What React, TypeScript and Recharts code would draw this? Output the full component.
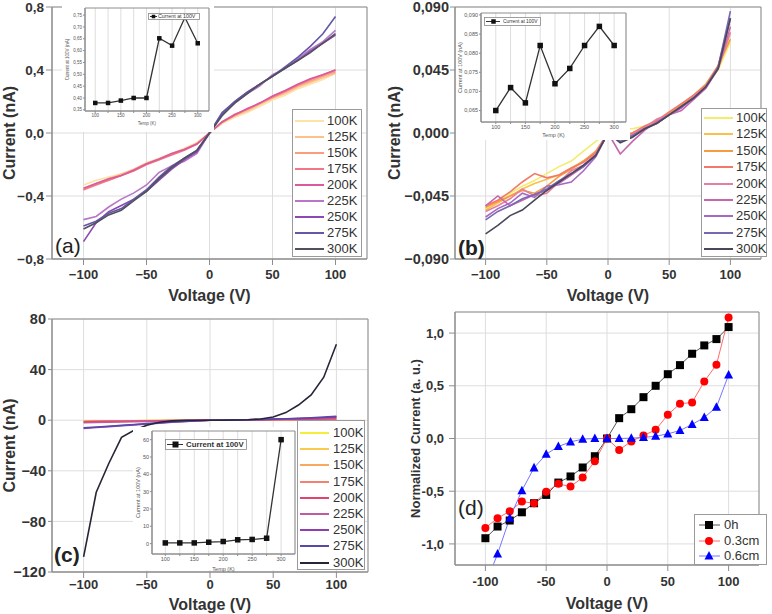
import React from 'react';
import { LineChart, Line, XAxis, YAxis, CartesianGrid, ReferenceArea } from 'recharts';

const FONT = '"Liberation Sans", Arial, Helvetica, sans-serif';
const FRAME = '#8e8e8e';
const GRID = '#dddddd';
const INK = '#333333';

const voltages = [-100, -90, -80, -70, -60, -50, -40, -30, -20, -10, 0, 10, 20, 30, 40, 50, 60, 70, 80, 90, 100];
const voltTicks = [-100, -50, 0, 50, 100];
const temps = ['100K', '125K', '150K', '175K', '200K', '225K', '250K', '275K', '300K'];
const tempAxis = [100, 125, 150, 175, 200, 225, 250, 275, 300];

// (a) I-V sweeps, nA
const colorsA = ['#fde3a7', '#fcc28c', '#f99e7c', '#f27686', '#d95a9e', '#b877c6', '#8a4ab2', '#6457a6', '#50505e'];
const currentA = [
  [-0.33, -0.30, -0.28, -0.26, -0.23, -0.19, -0.16, -0.13, -0.10, -0.06, 0, 0.06, 0.10, 0.13, 0.17, 0.21, 0.24, 0.28, 0.31, 0.34, 0.379],
  [-0.35, -0.32, -0.29, -0.26, -0.23, -0.19, -0.165, -0.13, -0.10, -0.065, 0, 0.065, 0.11, 0.14, 0.18, 0.22, 0.25, 0.29, 0.32, 0.35, 0.379],
  [-0.36, -0.32, -0.30, -0.27, -0.24, -0.20, -0.17, -0.135, -0.105, -0.07, 0, 0.07, 0.11, 0.15, 0.19, 0.225, 0.26, 0.30, 0.33, 0.36, 0.389],
  [-0.36, -0.33, -0.30, -0.27, -0.24, -0.20, -0.17, -0.14, -0.11, -0.07, 0, 0.07, 0.12, 0.15, 0.19, 0.23, 0.265, 0.305, 0.34, 0.37, 0.40],
  [-0.35, -0.32, -0.29, -0.27, -0.235, -0.195, -0.165, -0.13, -0.105, -0.07, 0, 0.07, 0.115, 0.155, 0.19, 0.235, 0.27, 0.31, 0.345, 0.37, 0.40],
  [-0.55, -0.53, -0.47, -0.42, -0.38, -0.33, -0.25, -0.21, -0.18, -0.13, 0, 0.12, 0.19, 0.25, 0.30, 0.37, 0.41, 0.47, 0.53, 0.58, 0.652],
  [-0.69, -0.57, -0.50, -0.46, -0.42, -0.37, -0.30, -0.23, -0.17, -0.12, 0, 0.12, 0.20, 0.26, 0.31, 0.36, 0.41, 0.46, 0.52, 0.57, 0.621],
  [-0.59, -0.56, -0.51, -0.48, -0.42, -0.36, -0.28, -0.21, -0.16, -0.11, 0, 0.13, 0.20, 0.26, 0.31, 0.36, 0.42, 0.48, 0.55, 0.63, 0.74],
  [-0.61, -0.57, -0.52, -0.49, -0.43, -0.37, -0.29, -0.22, -0.16, -0.11, 0, 0.11, 0.19, 0.25, 0.31, 0.36, 0.41, 0.46, 0.51, 0.57, 0.631],
];

// (b)
const colorsB = ['#f4ec6c', '#fbc04c', '#f89a40', '#f2786a', '#e3809f', '#c666ae', '#a668c0', '#7868b0', '#48485a'];
const currentB = [
  [-0.054, -0.048, -0.043, -0.038, -0.034, -0.029, -0.024, -0.020, -0.013, -0.006, 0, 0.003, 0.003, 0.005, 0.008, 0.014, 0.020, 0.026, 0.034, 0.045, 0.065],
  [-0.055, -0.050, -0.045, -0.040, -0.036, -0.033, -0.030, -0.025, -0.020, -0.014, 0, -0.003, -0.002, 0.003, 0.007, 0.013, 0.019, 0.025, 0.034, 0.047, 0.071],
  [-0.053, -0.049, -0.045, -0.041, -0.043, -0.038, -0.031, -0.026, -0.020, -0.013, 0, -0.002, 0.000, 0.004, 0.008, 0.014, 0.020, 0.027, 0.035, 0.048, 0.067],
  [-0.052, -0.048, -0.042, -0.035, -0.029, -0.032, -0.030, -0.025, -0.021, -0.014, 0, -0.003, 0.000, 0.005, 0.009, 0.015, 0.021, 0.027, 0.034, 0.048, 0.082],
  [-0.056, -0.052, -0.047, -0.040, -0.045, -0.043, -0.035, -0.027, -0.023, -0.015, 0, -0.004, -0.001, 0.004, 0.010, 0.013, 0.018, 0.026, 0.033, 0.046, 0.072],
  [-0.052, -0.045, -0.052, -0.048, -0.044, -0.041, -0.036, -0.030, -0.024, -0.016, 0, -0.015, -0.006, 0.002, 0.008, 0.013, 0.016, 0.024, 0.032, 0.046, 0.076],
  [-0.060, -0.054, -0.050, -0.043, -0.046, -0.038, -0.037, -0.035, -0.027, -0.017, 0, -0.005, -0.002, 0.003, 0.007, 0.013, 0.018, 0.025, 0.033, 0.047, 0.082],
  [-0.062, -0.056, -0.052, -0.047, -0.044, -0.040, -0.034, -0.029, -0.024, -0.016, 0, -0.006, -0.002, 0.003, 0.007, 0.013, 0.019, 0.025, 0.033, 0.047, 0.087],
  [-0.072, -0.066, -0.059, -0.055, -0.048, -0.041, -0.035, -0.029, -0.023, -0.016, 0, -0.007, -0.003, 0.003, 0.007, 0.013, 0.019, 0.025, 0.033, 0.046, 0.082],
];

// (c)
const colorsC = ['#f6ec3c', '#fbc94e', '#f9a860', '#f58270', '#e0446e', '#c05aa2', '#8e3eb0', '#5a48a8', '#262638'];
const currentC = [
  [-0.6, -0.55, -0.5, -0.45, -0.4, -0.35, -0.3, -0.25, -0.2, -0.1, 0, 0.05, 0.08, 0.1, 0.14, 0.18, 0.22, 0.26, 0.3, 0.35, 0.4],
  [-0.7, -0.63, -0.56, -0.49, -0.42, -0.35, -0.3, -0.24, -0.18, -0.1, 0, 0.05, 0.08, 0.11, 0.14, 0.18, 0.22, 0.26, 0.3, 0.35, 0.4],
  [-0.8, -0.72, -0.64, -0.56, -0.48, -0.4, -0.32, -0.25, -0.18, -0.1, 0, 0.05, 0.09, 0.12, 0.15, 0.19, 0.23, 0.27, 0.31, 0.36, 0.4],
  [-1.0, -0.9, -0.8, -0.7, -0.6, -0.5, -0.4, -0.3, -0.2, -0.1, 0, 0.06, 0.12, 0.18, 0.25, 0.32, 0.4, 0.48, 0.57, 0.68, 0.8],
  [-1.2, -1.08, -0.96, -0.84, -0.72, -0.6, -0.48, -0.36, -0.24, -0.12, 0, 0.08, 0.16, 0.25, 0.35, 0.45, 0.56, 0.68, 0.82, 1.0, 1.2],
  [-2.0, -1.8, -1.6, -1.4, -1.2, -1.0, -0.8, -0.6, -0.4, -0.2, 0, 0.1, 0.25, 0.4, 0.6, 0.8, 1.0, 1.3, 1.6, 1.9, 2.2],
  [-6.5, -5.8, -5.1, -4.4, -3.7, -3.0, -2.3, -1.6, -1.0, -0.5, 0, 0.1, 0.2, 0.35, 0.5, 0.7, 0.9, 1.2, 1.5, 1.9, 2.4],
  [-6.0, -5.4, -4.8, -4.1, -3.4, -2.7, -2.0, -1.4, -0.9, -0.4, 0, 0.1, 0.25, 0.4, 0.6, 0.85, 1.1, 1.5, 1.9, 2.4, 3.1],
  [-108, -57, -34, -13.5, -8, -4, -1.6, -0.5, -0.1, 0, 0, 0, 0.1, 0.4, 1.0, 2.5, 6, 12, 20, 34, 60],
];

// (d) normalized curves
const seriesD = ['0h', '0.3cm', '0.6cm'];
const normal0h = [-0.946, -0.835, -0.778, -0.70, -0.614, -0.535, -0.418, -0.36, -0.275, -0.168, 0, 0.193, 0.278, 0.392, 0.5, 0.61, 0.696, 0.804, 0.883, 0.943, 1.057];
const normal03 = [-0.848, -0.756, -0.69, -0.598, -0.614, -0.506, -0.43, -0.456, -0.37, -0.215, 0, -0.108, -0.028, 0.028, 0.082, 0.225, 0.329, 0.342, 0.541, 0.70, 1.149];
const normal06 = [-1.39, -1.095, -0.756, -0.494, -0.278, -0.149, -0.076, -0.032, -0.006, 0, 0, 0, 0.003, 0.01, 0.022, 0.044, 0.076, 0.133, 0.2, 0.297, 0.604];

// current at +100 V for each temperature, taken from the sweeps
const lastPoint = (series: number[][]) => series.map((s) => s[s.length - 1]);
const peakA = lastPoint(currentA);
const peakB = lastPoint(currentB);
const peakC = lastPoint(currentC);

const toRows = (series: number[][], names: string[]) =>
  voltages.map((v, i) => {
    const row: Record<string, number> = { v };
    names.forEach((n, k) => { row[n] = series[k][i]; });
    return row;
  });

const rowsA = toRows(currentA, temps);
const rowsB = toRows(currentB, temps);
const rowsC = toRows(currentC, temps);
const rowsD = toRows([normal0h, normal03, normal06], seriesD);

const comma = (digits: number, minus = '\u2212') => (v: number) =>
  v.toFixed(digits).replace('.', ',').replace('-', minus);
const voltFmt = (v: number) => String(v).replace('-', '\u2212');

type FrameProps = {
  rows: Record<string, number>[];
  top: number;
  right: number;
  yWidth: number;
  xHeight: number;
  yDomain: [number, number];
  yTicks: number[];
  yFmt: (v: number) => string;
  xFmt: (v: number) => string;
  yTick: [number, number];
  xTick: [number, number];
  yFont: number;
  xFont: number;
  yLabel: string;
  yLabelFont: number;
  yLabelOffset: number;
  xLabelOffset: number;
  overflow?: boolean;
  children: React.ReactNode;
};

function IvFrame(p: FrameProps) {
  return (
    <LineChart width={386} height={307} data={p.rows} margin={{ top: p.top, right: p.right, bottom: 0, left: 0 }}>
      <CartesianGrid stroke={GRID} />
      <XAxis
        dataKey="v" type="number" domain={[-125, 125]} ticks={voltTicks} interval={0}
        tickFormatter={p.xFmt} height={p.xHeight} stroke={FRAME}
        tickSize={p.xTick[0]} tickMargin={p.xTick[1]}
        tick={{ fontSize: p.xFont, fontWeight: 700, fill: INK }}
        label={{ value: 'Voltage (V)', position: 'insideBottom', offset: p.xLabelOffset, fontSize: 16, fontWeight: 700, fill: INK }}
      />
      <YAxis
        type="number" domain={p.yDomain} ticks={p.yTicks} interval={0} allowDataOverflow={!!p.overflow}
        tickFormatter={p.yFmt} width={p.yWidth} stroke={FRAME}
        tickSize={p.yTick[0]} tickMargin={p.yTick[1]}
        tick={{ fontSize: p.yFont, fontWeight: 700, fill: INK }}
        label={{
          value: p.yLabel, angle: -90, position: 'insideLeft', offset: p.yLabelOffset,
          fontSize: p.yLabelFont, fontWeight: 700, fill: INK, style: { textAnchor: 'middle' },
        }}
      />
      <ReferenceArea x1={-125} x2={125} y1={p.yDomain[0]} y2={p.yDomain[1]} fill="none" stroke={FRAME} />
      {p.children}
    </LineChart>
  );
}

const tempLines = (colors: string[]) =>
  temps.map((t, i) => (
    <Line key={t} type="linear" dataKey={t} stroke={colors[i]} strokeWidth={1.6} dot={false} isAnimationActive={false} />
  ));

type LegendProps = {
  left: number; top: number; width: number; height: number;
  colors: string[]; first: number; gap: number; lineX: number; lineW: number; textX: number;
};

function TempLegend(p: LegendProps) {
  return (
    <div style={{ position: 'absolute', left: p.left, top: p.top, width: p.width, height: p.height, boxSizing: 'border-box', border: '1px solid #9a9a9a', background: '#fff' }}>
      {temps.map((t, i) => (
        <div key={t} style={{ position: 'absolute', left: 0, top: p.first + i * p.gap - 8, width: '100%', height: 16 }}>
          <div style={{ position: 'absolute', left: p.lineX, top: 7, width: p.lineW, height: 2, background: p.colors[i] }} />
          <span style={{ position: 'absolute', left: p.textX, top: 0, lineHeight: '16px', fontSize: 13, color: INK }}>{t}</span>
        </div>
      ))}
    </div>
  );
}

type InsetLegend = {
  x: number; y: number; w: number; h: number;
  lineEnd: number; markX: number; mark: number; textX: number; font: number; bold?: boolean;
};

type InsetProps = {
  left: number; top: number; width: number; height: number; bgHeight: number;
  values: number[];
  xDomain: [number, number];
  yDomain: [number, number]; yTicks: number[]; yFmt: (v: number) => string;
  yWidth: number; xHeight: number; marginTop: number; marginRight: number;
  font: number; yLabelOffset: number; xLabelOffset: number; marker: number;
  legend: InsetLegend;
};

function Inset(p: InsetProps) {
  const rows = tempAxis.map((t, i) => ({ t, amp: p.values[i] }));
  const m = p.marker;
  const lg = p.legend;
  return (
    <div style={{ position: 'absolute', left: p.left, top: p.top, width: p.width, height: p.height }}>
      <div style={{ position: 'absolute', left: 0, top: 0, width: p.width, height: p.bgHeight, background: '#fff' }} />
      <LineChart width={p.width} height={p.height} data={rows} margin={{ top: p.marginTop, right: p.marginRight, bottom: 0, left: 0 }}>
        <CartesianGrid stroke={GRID} horizontal={false} />
        <XAxis
          dataKey="t" type="number" domain={p.xDomain} ticks={tempAxis} interval={0} height={p.xHeight}
          tickFormatter={(v: number) => (v % 50 === 0 ? String(v) : '')}
          stroke={FRAME} tickSize={2} tickMargin={1} tick={{ fontSize: p.font, fill: '#555' }}
          label={{ value: 'Temp (K)', position: 'insideBottom', offset: p.xLabelOffset, fontSize: p.font, fill: '#555' }}
        />
        <YAxis
          type="number" domain={p.yDomain} ticks={p.yTicks} interval={0} width={p.yWidth}
          tickFormatter={p.yFmt} stroke={FRAME} tickSize={2} tickMargin={1} tick={{ fontSize: p.font, fill: '#555' }}
          label={{
            value: 'Current at 100V (nA)', angle: -90, position: 'insideLeft', offset: p.yLabelOffset,
            fontSize: p.font, fill: '#555', style: { textAnchor: 'middle' },
          }}
        />
        <ReferenceArea x1={p.xDomain[0]} x2={p.xDomain[1]} y1={p.yDomain[0]} y2={p.yDomain[1]} fill="none" stroke={FRAME} />
        <Line
          type="linear" dataKey="amp" stroke="#333" strokeWidth={1.3} isAnimationActive={false}
          dot={(d: any) => <rect key={`m${d.index}`} x={d.cx - m / 2} y={d.cy - m / 2} width={m} height={m} fill="#111" />}
        />
      </LineChart>
      <svg style={{ position: 'absolute', left: lg.x, top: lg.y }} width={lg.w} height={lg.h}>
        <rect x={0.5} y={0.5} width={lg.w - 1} height={lg.h - 1} fill="#fff" stroke="#888" strokeWidth={0.8} />
        <line x1={2} x2={lg.lineEnd} y1={lg.h / 2} y2={lg.h / 2} stroke="#333" strokeWidth={1} />
        <rect x={lg.markX - lg.mark / 2} y={lg.h / 2 - lg.mark / 2} width={lg.mark} height={lg.mark} fill="#111" />
        <text x={lg.textX} y={lg.h / 2} dy="0.35em" fontSize={lg.font} fontWeight={lg.bold ? 700 : 400} fill={INK}>
          Current at 100V
        </text>
      </svg>
    </div>
  );
}

const square = (s: number, fill: string) => (d: any) =>
  <rect key={`q${d.index}`} x={d.cx - s / 2} y={d.cy - s / 2} width={s} height={s} fill={fill} />;
const dotCircle = (r: number, fill: string) => (d: any) =>
  <circle key={`c${d.index}`} cx={d.cx} cy={d.cy} r={r} fill={fill} />;
const triangle = (s: number, fill: string) => (d: any) =>
  <polygon key={`t${d.index}`} points={`${d.cx},${d.cy - s * 0.55} ${d.cx - s / 2},${d.cy + s * 0.4} ${d.cx + s / 2},${d.cy + s * 0.4}`} fill={fill} />;

const markD = [
  { line: '#555555', color: '#000000', shape: 'square' },
  { line: '#ff6a6a', color: '#ff0000', shape: 'circle' },
  { line: '#7676ff', color: '#0000ff', shape: 'triangle' },
];

const markerSvg = (shape: string, color: string, cx: number, cy: number) => {
  if (shape === 'square') return <rect x={cx - 4} y={cy - 4} width={8} height={8} fill={color} />;
  if (shape === 'circle') return <circle cx={cx} cy={cy} r={4} fill={color} />;
  return <polygon points={`${cx},${cy - 5} ${cx - 4.5},${cy + 3.6} ${cx + 4.5},${cy + 3.6}`} fill={color} />;
};

const panelLabel = (text: string, left: number, top: number, bold: boolean) => (
  <span style={{ position: 'absolute', left, top, fontSize: 21, lineHeight: '21px', fontWeight: bold ? 700 : 400, color: '#222' }}>{text}</span>
);

export default function App() {
  return (
    <div style={{ position: 'absolute', left: 0, top: 0, width: 772, height: 614, background: '#fff', fontFamily: FONT, overflow: 'hidden' }}>
      {/* (a) */}
      <div style={{ position: 'absolute', left: 0, top: 0 }}>
        <IvFrame
          rows={rowsA} top={7} right={19} yWidth={52} xHeight={48}
          yDomain={[-0.8, 0.8]} yTicks={[-0.8, -0.4, 0, 0.4, 0.8]} yFmt={comma(1)} xFmt={voltFmt}
          yTick={[6, 2]} xTick={[6, 5]} yFont={13.5} xFont={13}
          yLabel="Current (nA)" yLabelFont={16} yLabelOffset={9} xLabelOffset={6}
        >
          {tempLines(colorsA)}
        </IvFrame>
      </div>
      <Inset
        left={62} top={4} width={152} height={128} bgHeight={128} values={peakA}
        xDomain={[80, 322]} yDomain={[0.345, 0.78]}
        yTicks={[0.35, 0.4, 0.45, 0.5, 0.55, 0.6, 0.65, 0.7, 0.75]} yFmt={comma(2, '-')}
        yWidth={23} xHeight={21} marginTop={4} marginRight={5}
        font={4.5} yLabelOffset={5} xLabelOffset={7} marker={4.5}
        legend={{ x: 86, y: 9, w: 52, h: 7, lineEnd: 9, markX: 5.5, mark: 3.5, textX: 10, font: 5.3 }}
      />
      <TempLegend left={292} top={109} width={70} height={148} colors={colorsA} first={11} gap={16} lineX={2} lineW={29} textX={34} />
      {panelLabel('(a)', 55, 235, false)}

      {/* (b) */}
      <div style={{ position: 'absolute', left: 386, top: 0 }}>
        <IvFrame
          rows={rowsB} top={7} right={11} yWidth={69} xHeight={48}
          yDomain={[-0.09, 0.09]} yTicks={[-0.09, -0.045, 0, 0.045, 0.09]} yFmt={comma(3)} xFmt={voltFmt}
          yTick={[5, 1]} xTick={[6, 5]} yFont={14.5} xFont={13}
          yLabel="Current (nA)" yLabelFont={16} yLabelOffset={8} xLabelOffset={6}
        >
          {tempLines(colorsB)}
        </IvFrame>
      </div>
      <Inset
        left={456} top={8} width={174} height={132} bgHeight={132} values={peakB}
        xDomain={[75, 320]} yDomain={[0.062, 0.0905]}
        yTicks={[0.065, 0.07, 0.075, 0.08, 0.085, 0.09]} yFmt={comma(3, '-')}
        yWidth={25} xHeight={18} marginTop={5} marginRight={4}
        font={5.5} yLabelOffset={4} xLabelOffset={3} marker={5.5}
        legend={{ x: 28, y: 9, w: 57, h: 9, lineEnd: 16, markX: 9.5, mark: 4.5, textX: 19, font: 4.9 }}
      />
      <TempLegend left={701} top={108} width={66} height={149} colors={colorsB} first={9} gap={16.4} lineX={2} lineW={29} textX={34} />
      {panelLabel('(b)', 458, 237, true)}

      {/* (c) */}
      <div style={{ position: 'absolute', left: 0, top: 307 }}>
        <IvFrame
          rows={rowsC} top={12} right={18} yWidth={52} xHeight={42}
          yDomain={[-120, 80]} yTicks={[-120, -80, -40, 0, 40, 80]} yFmt={voltFmt} xFmt={voltFmt}
          yTick={[4, 2]} xTick={[6, 2]} yFont={14.5} xFont={13}
          yLabel="Current (nA)" yLabelFont={16} yLabelOffset={9} xLabelOffset={4}
        >
          {tempLines(colorsC)}
        </IvFrame>
      </div>
      <Inset
        left={133} top={427} width={166} height={147} bgHeight={143} values={peakC}
        xDomain={[77, 324]} yDomain={[-6, 65]}
        yTicks={[0, 10, 20, 30, 40, 50, 60]} yFmt={(v: number) => String(v)}
        yWidth={19} xHeight={20} marginTop={4} marginRight={4}
        font={5.5} yLabelOffset={5} xLabelOffset={3} marker={5.5}
        legend={{ x: 32, y: 12, w: 82, h: 11, lineEnd: 18, markX: 10.5, mark: 6, textX: 21, font: 7.8, bold: true }}
      />
      <TempLegend left={297} top={420} width={68} height={150} colors={colorsC} first={12} gap={16.2} lineX={2} lineW={29} textX={35} />
      {panelLabel('(c)', 54, 544, true)}

      {/* (d) */}
      <div style={{ position: 'absolute', left: 386, top: 307 }}>
        <IvFrame
          rows={rowsD} top={5} right={13} yWidth={69} xHeight={49}
          yDomain={[-1.2, 1.2]} yTicks={[-1, -0.5, 0, 0.5, 1]} yFmt={comma(1, '-')} xFmt={(v: number) => String(v)}
          yTick={[6, 5]} xTick={[6, 6]} yFont={13} xFont={13}
          yLabel="Normalized Current (a. u.)" yLabelFont={13} yLabelOffset={29} xLabelOffset={5} overflow
        >
          <Line type="linear" dataKey="0h" stroke={markD[0].line} strokeWidth={1} isAnimationActive={false} dot={square(8, markD[0].color)} />
          <Line type="linear" dataKey="0.3cm" stroke={markD[1].line} strokeWidth={1} isAnimationActive={false} dot={dotCircle(4, markD[1].color)} />
          <Line type="linear" dataKey="0.6cm" stroke={markD[2].line} strokeWidth={1} isAnimationActive={false} dot={triangle(9, markD[2].color)} />
        </IvFrame>
      </div>
      <div style={{ position: 'absolute', left: 694, top: 514, width: 73, height: 51, boxSizing: 'border-box', border: '1px solid #9a9a9a', background: '#fff' }}>
        {seriesD.map((s, i) => (
          <div key={s} style={{ position: 'absolute', left: 0, top: 10 + i * 15.5 - 8, width: '100%', height: 16 }}>
            <svg style={{ position: 'absolute', left: 0, top: 0 }} width={28} height={16}>
              <line x1={4} x2={25} y1={8} y2={8} stroke={markD[i].line} strokeWidth={1} />
              {markerSvg(markD[i].shape, markD[i].color, 14, 8)}
            </svg>
            <span style={{ position: 'absolute', left: 29, top: 0, lineHeight: '16px', fontSize: 13, color: INK }}>{s}</span>
          </div>
        ))}
      </div>
      {panelLabel('(d)', 458, 497, false)}
    </div>
  );
}
